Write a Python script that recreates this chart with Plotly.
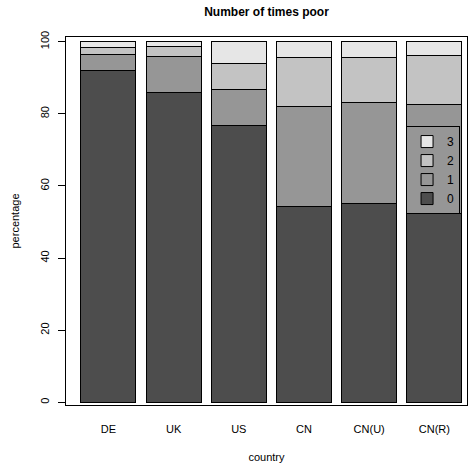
import plotly.graph_objects as go

countries = ["DE", "UK", "US", "CN", "CN(U)", "CN(R)"]
times = ["0", "1", "2", "3"]
v0 = [92.0, 86.0, 76.8, 54.2, 55.2, 52.4]
v1 = [4.4, 9.9, 10.0, 27.7, 28.0, 30.2]
v2 = [2.0, 2.9, 7.1, 13.7, 12.4, 13.7]
v3 = [1.6, 1.2, 6.1, 4.4, 4.4, 3.7]
colors = ["#4D4D4D", "#969696", "#C3C3C3", "#E6E6E6"]

series = [v0, v1, v2, v3]
font = "Liberation Sans, Arial, Helvetica, sans-serif"

fig = go.Figure()
for name, vals, col in zip(times, series, colors):
    fig.add_trace(go.Bar(
        x=countries, y=vals, name=name,
        marker=dict(color=col, line=dict(color="black", width=1)),
    ))

fig.update_layout(
    template="none",
    barmode="stack",
    bargap=0.157,
    width=468, height=468,
    margin=dict(l=66, r=1, t=37, b=63),
    paper_bgcolor="white", plot_bgcolor="white",
    font=dict(family=font, size=11, color="black"),
    title=dict(text="<b>Number of times poor</b>", x=0.5695, xanchor="center",
               y=0.975, yanchor="middle", font=dict(size=12, family=font, color="black")),
    legend=dict(traceorder="reversed", x=0.848, y=0.758, xanchor="left", yanchor="top",
                bgcolor="rgba(0,0,0,0)", bordercolor="black", borderwidth=1,
                font=dict(size=12, color="black"), itemwidth=30),
    showlegend=True,
)
fig.update_xaxes(range=[-0.65, 5.5], showline=True, linecolor="black", linewidth=1,
                 mirror=True, ticks="", ticklabelstandoff=14, showgrid=False, zeroline=False,
                 tickfont=dict(color="black", size=11),
                 title=dict(text="country", standoff=19, font=dict(size=11, color="black")))
fig.update_yaxes(range=[-0.75, 101.3], tickvals=[0, 20, 40, 60, 80, 100],
                 showline=True, linecolor="black", linewidth=1, mirror=True,
                 ticks="outside", ticklen=7, tickcolor="black", tickwidth=1, tickangle=-90,
                 ticklabelstandoff=5, showgrid=False, zeroline=False,
                 tickfont=dict(color="black", size=11),
                 title=dict(text="percentage", standoff=16, font=dict(size=11, color="black")))

fig.write_html("out.html", config={"displayModeBar": False},
               post_script="document.body.style.margin='0px';")
